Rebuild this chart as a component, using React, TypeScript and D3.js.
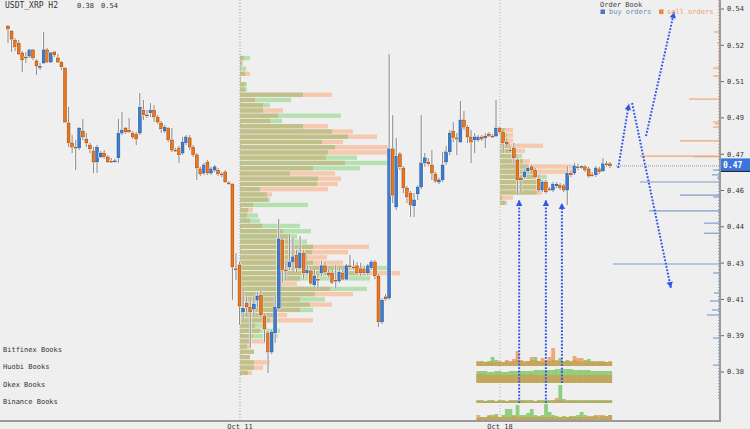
import React, { useEffect } from "react";
import * as d3 from "d3";

// ---------- DATA ----------
// H2 candles: [open, high, low, close]
const candles: [number, number, number, number][] = [
[.5296,.5300,.5222,.5283],[.5274,.5279,.5183,.5239],[.5235,.5244,.5187,.5205],[.5222,.5235,.5170,.5174],
[.5179,.5187,.5096,.5148],[.5161,.5183,.5135,.5157],[.5165,.5196,.5157,.5192],[.5192,.5196,.5148,.5157],
[.5144,.5152,.5083,.5122],[.5118,.5135,.5105,.5120],[.5135,.5270,.5131,.5192],[.5192,.5200,.5135,.5139],
[.5139,.5183,.5135,.5179],[.5183,.5187,.5161,.5170],[.5157,.5174,.5135,.5139],[.5139,.5144,.5105,.5118],
[.5113,.5118,.4874,.4878],[.4874,.4943,.4769,.4787],[.4787,.4822,.4743,.4769],[.4769,.4800,.4669,.4767],
[.4765,.4856,.4756,.4852],[.4839,.4891,.4800,.4813],[.4804,.4830,.4769,.4787],[.4778,.4787,.4743,.4761],
[.4752,.4769,.4656,.4704],[.4704,.4778,.4656,.4769],[.4726,.4752,.4722,.4743],[.4743,.4756,.4718,.4726],
[.4726,.4735,.4700,.4704],[.4708,.4722,.4700,.4706],[.4706,.4718,.4704,.4709],[.4722,.4891,.4700,.4830],
[.4830,.4922,.4822,.4843],[.4852,.4856,.4826,.4835],[.4843,.4896,.4830,.4835],[.4830,.4839,.4804,.4813],
[.4826,.4835,.4778,.4804],[.4830,.5004,.4822,.4943],[.4930,.4974,.4887,.4909],[.4909,.4930,.4896,.4907],
[.4918,.4961,.4900,.4930],[.4930,.4952,.4878,.4900],[.4900,.4909,.4870,.4878],[.4874,.4883,.4830,.4848],
[.4839,.4865,.4830,.4856],[.4852,.4856,.4791,.4800],[.4800,.4852,.4748,.4756],[.4756,.4765,.4748,.4754],
[.4765,.4774,.4700,.4735],[.4743,.4813,.4735,.4791],[.4787,.4822,.4778,.4813],[.4809,.4822,.4756,.4769],
[.4769,.4778,.4726,.4735],[.4735,.4743,.4626,.4678],[.4674,.4683,.4643,.4652],[.4656,.4700,.4648,.4691],
[.4704,.4713,.4648,.4656],[.4656,.4683,.4648,.4674],[.4669,.4691,.4661,.4683],[.4669,.4678,.4643,.4652],
[.4652,.4661,.4639,.4650],[.4661,.4669,.4613,.4617],[.4613,.4621,.4604,.4611],[.4608,.4613,.4103,.4247],
[.4239,.4308,.4190,.4237],[.4256,.4269,.3995,.4077],[.4051,.4147,.4016,.4068],[.4090,.4117,.4047,.4073],
[.4073,.4103,.3895,.4051],[.4064,.4117,.4034,.4086],[.4103,.4138,.4073,.4121],[.4125,.4147,.4025,.4038],
[.4034,.4042,.3921,.3977],[.3960,.3969,.3786,.3877],[.3877,.3973,.3868,.3964],[.3960,.4125,.3916,.4073],
[.4068,.4456,.4060,.4369],[.4365,.4373,.4181,.4234],[.4234,.4265,.4194,.4232],[.4247,.4386,.4234,.4269],
[.4269,.4373,.4230,.4291],[.4299,.4321,.4225,.4243],[.4243,.4382,.4234,.4308],[.4308,.4321,.4194,.4221],
[.4221,.4256,.4212,.4234],[.4230,.4243,.4169,.4177],[.4169,.4234,.4160,.4208],[.4194,.4212,.4151,.4192],
[.4221,.4273,.4208,.4252],[.4252,.4269,.4212,.4225],[.4221,.4234,.4203,.4212],[.4221,.4234,.4173,.4181],
[.4190,.4256,.4155,.4188],[.4186,.4243,.4177,.4225],[.4221,.4234,.4190,.4194],[.4194,.4260,.4190,.4252],
[.4252,.4299,.4243,.4250],[.4247,.4278,.4234,.4245],[.4252,.4269,.4212,.4221],[.4239,.4265,.4208,.4221],
[.4239,.4252,.4212,.4221],[.4221,.4260,.4212,.4252],[.4243,.4278,.4234,.4269],[.4269,.4278,.4194,.4208],
[.4208,.4217,.3986,.4008],[.4008,.4112,.3999,.4103],[.4117,.4130,.4099,.4108],[.4112,.5174,.4103,.4761],
[.4761,.4909,.4526,.4560],[.4508,.4809,.4495,.4730],[.4739,.4748,.4669,.4683],[.4678,.4687,.4569,.4591],
[.4591,.4600,.4526,.4552],[.4569,.4578,.4465,.4517],[.4513,.4569,.4465,.4539],[.4565,.4604,.4539,.4595],
[.4595,.4909,.4587,.4700],[.4700,.4743,.4683,.4722],[.4704,.4722,.4687,.4696],[.4691,.4756,.4626,.4656],
[.4652,.4661,.4613,.4621],[.4617,.4635,.4608,.4626],[.4626,.4748,.4617,.4691],[.4704,.4774,.4691,.4748],
[.4748,.4843,.4735,.4830],[.4839,.4878,.4791,.4809],[.4809,.4830,.4735,.4804],[.4791,.4970,.4787,.4887],
[.4887,.4926,.4843,.4856],[.4856,.4865,.4787,.4813],[.4813,.4843,.4700,.4791],[.4800,.4830,.4743,.4813],
[.4800,.4822,.4791,.4813],[.4813,.4822,.4795,.4804],[.4809,.4830,.4765,.4817],[.4826,.4835,.4813,.4817],
[.4817,.4826,.4809,.4815],[.4817,.4974,.4813,.4852],[.4852,.4856,.4826,.4835],[.4835,.4843,.4743,.4787],
[.4791,.4800,.4774,.4782],[.4756,.4769,.4748,.4754],[.4765,.4787,.4700,.4722],[.4713,.4722,.4569,.4626],
[.4635,.4643,.4569,.4626],[.4639,.4669,.4630,.4661],[.4665,.4687,.4656,.4678],[.4683,.4691,.4661,.4669],
[.4669,.4678,.4630,.4639],[.4630,.4639,.4574,.4582],[.4582,.4626,.4574,.4617],[.4617,.4626,.4565,.4574],
[.4587,.4595,.4578,.4585],[.4582,.4617,.4574,.4608],[.4600,.4617,.4591,.4608],[.4604,.4613,.4582,.4591],
[.4600,.4608,.4574,.4582],[.4582,.4687,.4517,.4656],[.4656,.4665,.4639,.4648],[.4656,.4700,.4648,.4687],
[.4683,.4696,.4669,.4681],[.4683,.4691,.4674,.4685],[.4683,.4691,.4661,.4669],[.4674,.4683,.4635,.4643],
[.4648,.4661,.4639,.4646],[.4648,.4687,.4639,.4678],[.4674,.4683,.4652,.4661],[.4665,.4722,.4661,.4696],
[.4696,.4708,.4683,.4694],[.4696,.4704,.4678,.4687],
];

const yTickValues = [0.379, 0.3948, 0.4106, 0.4264, 0.4422, 0.458, 0.4738, 0.4896, 0.5054, 0.5212, 0.537];
const priceDomain = [0.379, 0.537];
const xTickLabels = ["Oct 11", "Oct 18"];
const xTickIndex = [65.13, 138.12];
const titleText = "USDT_XRP H2";
const titleLow = "0.38";
const titleHigh = "0.54";

// volume profile at Oct 11 (rows top->bottom)
const profile1Range = [0.5166, 0.3777];
const profile1Buy = [10,2,6,5,1,7,7,63,51,30,23,101,42,63,92,108,82,95,88,117,148,120,50,78,77,20,
  27,30,68,8,18,20,60,71,57,67,73,72,67,73,147,130,130,40,127,75,85,70,73,37,30,23,40,38,10,7,14,10,14,14,8];
const profile1Sell = [4,3,1,10,1,5,5,92,15,23,43,38,30,88,113,137,103,150,150,86,105,73,95,101,98,88,
  32,28,13,13,7,10,22,43,50,53,129,108,87,103,110,160,60,57,90,113,60,92,60,47,73,15,20,13,25,10,14,10,30,23,12];
// volume profile at Oct 18
const profile2Range = [0.4852, 0.4517];
const profile2Buy = [5,7,8,10,12,22,23,28,37,47,47,40,37,2,7];
const profile2Sell = [13,13,13,43,25,17,30,72,73,40,37,45,42,13,5];

// live order book levels (price, size)
const sellLevels = [.5383,.5270,.5222,.5122,.5113,.5078,.4978,.4878,.4870,.4856,.4796,.4730,.4727];
const sellSizes = [2,6,3,2,7,7,31,7,5,7,40,80,27];
const buyLevels = [.4669,.4648,.4635,.4617,.4560,.4552,.4491,.4438,.4394,.4260,.4221,.4134,.4099,.4060,.4038,.3938,.3820];
const buySizes = [7,8,3,80,40,7,71,16,16,107,7,6,10,8,13,7,7];

// exchange books (per candle from index bookStart)
const bookStart = 132;
const bookNames = ["Bitfinex Books", "Huobi Books", "Okex Books", "Binance Books"];
const bitfinexBuy = [4,5,4,5,9,6,4,4,5,4,5,6,5,4,5,6,9,5,4,5,5,6,5,8,5,6,5,6,5,4,6,7,5,4,5,4,4,4];
const bitfinexSell = [5,4,4,4,4,4,5,4,6,5,7,15,6,5,5,9,6,5,8,6,9,18,6,5,4,5,4,10,8,8,5,5,4,5,4,5,4,5];
const huobiBuy = [12,12,12,11,11,12,12,11,11,12,12,12,12,12,12,12,13,13,13,13,13,13,14,14,14,14,14,13,13,13,13,13,12,12,12,12,12,12];
const huobiSell = [9,9,8,8,8,8,9,8,8,8,8,8,8,8,8,9,8,8,8,8,8,8,8,8,8,8,8,8,8,8,8,8,8,8,8,8,8,8];
const okexBuy = [3,3,2,3,3,2,3,3,2,3,3,3,3,3,3,3,2,3,3,3,3,3,3,18,4,3,3,3,3,3,3,3,3,3,3,3,3,3];
const okexSell = [2,2,2,2,2,2,2,2,2,2,2,2,2,2,2,2,2,2,2,2,2,2,5,3,2,2,2,2,2,2,2,2,2,2,2,2,2,2];
const binanceBuy = [3,4,4,5,6,7,4,6,12,12,6,16,6,6,8,12,6,5,6,17,9,6,5,4,5,4,5,5,6,9,6,4,5,6,4,5,5,6];
const binanceSell = [6,4,4,6,4,5,4,4,4,4,5,4,4,4,4,4,4,4,4,4,4,4,3,4,4,4,4,4,4,4,4,5,4,5,6,6,5,6];

// annotation arrows in (candle index, price)
const arrowFrom: [number, number][] = [[143.5,.3655],[151,.3655],[155.5,.3742],[171.3,.4678],[175.2,.4961],[179.1,.4817]];
const arrowTo: [number, number][] = [[143.5,.4539],[151,.4539],[155.5,.4526],[174.3,.4957],[186.1,.4156],[187,.5357]];

// ---------- CHART ----------
const W = 750, H = 429;
const FONT = "'DejaVu Sans Mono', monospace";
const ORANGE = "#f0761c", BLUE = "#3f7dcc";

export default function App() {
  useEffect(() => {
    document.body.style.margin = "0";
    document.body.style.background = "#efefef";
  }, []);

  const x = d3.scaleLinear().domain([0, candles.length - 1]).range([8, 610]);
  const y = d3.scaleLinear().domain(priceDomain).range([372, 9]);
  const pitch = x(1) - x(0);
  const vol = d3.scaleLinear().domain([0, 100]).range([0, 100]);
  const fmt = d3.format(".2f");
  const axisX = 720, bottomY = 421;
  const last = candles[candles.length - 1][3];

  const profile = (buy: number[], sell: number[], range: number[], idx: number, key: string) => {
    const band = d3.scaleBand<number>().domain(d3.range(buy.length)).range([y(range[0]), y(range[1])]).paddingInner(0.18);
    const x0 = x(idx);
    return (
      <g key={key}>
        {buy.map((b, i) => {
          const s = sell[i];
          const yy = band(i)!;
          const hh = band.bandwidth();
          return (
            <g key={i}>
              <rect x={x0} y={yy} width={vol(Math.max(b, s))} height={hh} fill={b > s ? "#b7e0b1" : "#f6c8ae"} />
              <rect x={x0} y={yy} width={vol(Math.min(b, s))} height={hh} fill="#c0c18a" />
            </g>
          );
        })}
      </g>
    );
  };

  const books = [
    { buy: bitfinexBuy, sell: bitfinexSell, base: 366 },
    { buy: huobiBuy, sell: huobiSell, base: 383 },
    { buy: okexBuy, sell: okexSell, base: 403 },
    { buy: binanceBuy, sell: binanceSell, base: 421 },
  ];
  const bookLabelY = [352, 369, 387, 404];
  const hScale = d3.scaleLinear().domain([0, 10]).range([0, 10]);

  const arrowHead = (x1: number, y1: number, x2: number, y2: number) => {
    const a = Math.atan2(y2 - y1, x2 - x1);
    const L = 6, Wd = 3.2;
    const bx = x2 - L * Math.cos(a), by = y2 - L * Math.sin(a);
    const px = -Math.sin(a) * Wd, py = Math.cos(a) * Wd;
    return `${x2},${y2} ${bx + px},${by + py} ${bx - px},${by - py}`;
  };

  return (
    <svg width={W} height={H} style={{ position: "fixed", left: 0, top: 0, display: "block", background: "#efefef" }}>
      <rect width={W} height={H} fill="#efefef" />

      {/* date grid lines */}
      {xTickIndex.map((t, i) => (
        <line key={i} x1={x(t)} x2={x(t)} y1={0} y2={bottomY} stroke="#b5b5b5" strokeDasharray="1 2" />
      ))}

      {/* volume profiles */}
      {profile(profile1Buy, profile1Sell, profile1Range, xTickIndex[0], "p1")}
      {profile(profile2Buy, profile2Sell, profile2Range, xTickIndex[1], "p2")}
      <line x1={x(xTickIndex[0])} x2={x(xTickIndex[0])} y1={0} y2={bottomY} stroke="#b5b5b5" strokeDasharray="1 2" />

      {/* order book levels */}
      {sellLevels.map((p, i) => (
        <line key={"s" + i} x1={axisX - sellSizes[i]} x2={axisX} y1={y(p)} y2={y(p)} stroke="#efa676" strokeWidth={1.2} />
      ))}
      {buyLevels.map((p, i) => (
        <line key={"b" + i} x1={axisX - buySizes[i]} x2={axisX} y1={y(p)} y2={y(p)} stroke="#7f9fcc" strokeWidth={1.2} />
      ))}
      <line x1={axisX - 1.5} x2={axisX - 1.5} y1={0} y2={y(last) - 4} stroke="#e9a070" strokeDasharray="1 2" />
      <line x1={axisX - 1.5} x2={axisX - 1.5} y1={y(last) + 4} y2={400} stroke="#7f9fcc" strokeDasharray="1 2" />

      {/* last price line */}
      <line x1={x(candles.length - 1) + 6} x2={axisX} y1={y(last)} y2={y(last)} stroke="#999" strokeDasharray="1 1" />

      {/* candles */}
      {candles.map((c, i) => {
        const [o, h, l, cl] = c;
        const up = cl >= o;
        const cx = x(i);
        const yTop = y(Math.max(o, cl));
        const bh = Math.max(1, y(Math.min(o, cl)) - yTop);
        return (
          <g key={i}>
            <line x1={cx} x2={cx} y1={y(h)} y2={y(l)} stroke="#fff" strokeWidth={2.6} opacity={0.8} />
            <line x1={cx} x2={cx} y1={y(h)} y2={y(l)} stroke="#8c8c8c" strokeWidth={1.1} />
            <rect x={cx - 2.2} y={yTop - 0.7} width={4.4} height={bh + 1.4} fill="#fff" />
            <rect x={cx - 1.45} y={yTop} width={2.9} height={bh} fill={up ? BLUE : ORANGE}
              stroke={up ? "#1d4b8a" : "#8a3b05"} strokeWidth={0.5} />
          </g>
        );
      })}

      {/* exchange book panels */}
      {books.map((bk, k) => (
        <g key={"bk" + k}>
          {bk.buy.map((b, j) => {
            const s = bk.sell[j];
            const cx = x(bookStart + j);
            const m = Math.min(b, s), M = Math.max(b, s);
            return (
              <g key={j}>
                <rect x={cx - pitch / 2} y={bk.base - hScale(M)} width={pitch + 0.3} height={hScale(M)} fill={b > s ? "#8fce7d" : "#f4a67b"} />
                <rect x={cx - pitch / 2} y={bk.base - hScale(m)} width={pitch + 0.3} height={hScale(m)} fill="#c3a65c" />
              </g>
            );
          })}
        </g>
      ))}
      {bookNames.map((n, k) => (
        <text key={n} x={3} y={bookLabelY[k]} fontFamily={FONT} fontSize={7} fill="#333">{n}</text>
      ))}

      {/* annotation arrows */}
      {arrowFrom.map((f, i) => {
        const x1 = x(f[0]), y1 = y(f[1]), x2 = x(arrowTo[i][0]), y2 = y(arrowTo[i][1]);
        return (
          <g key={"a" + i}>
            <line x1={x1} y1={y1} x2={x2} y2={y2} stroke="#2f55ea" strokeWidth={2} strokeDasharray="1.8 1.6" />
            <polygon points={arrowHead(x1, y1, x2, y2)} fill="#2f55ea" />
          </g>
        );
      })}

      {/* axes */}
      <line x1={0} x2={axisX + 1} y1={bottomY} y2={bottomY} stroke="#9a9a9a" strokeWidth={2} />
      <line x1={axisX} x2={axisX} y1={0} y2={bottomY} stroke="#9a9a9a" strokeWidth={2} />
      {yTickValues.map((v, i) => (
        <g key={"yt" + i}>
          <line x1={axisX + 1} x2={axisX + 4} y1={y(v)} y2={y(v)} stroke="#666" />
          <text x={727} y={y(v)} dy="0.35em" fontFamily={FONT} fontSize={7} fill="#333">{fmt(v)}</text>
        </g>
      ))}
      {xTickIndex.map((t, i) => (
        <text key={"xt" + i} x={x(t)} y={428.5} textAnchor="middle" fontFamily={FONT} fontSize={7} fill="#333">{xTickLabels[i]}</text>
      ))}

      {/* current price box */}
      <rect x={axisX + 1} y={y(last) - 7.5} width={W - axisX - 1} height={13} fill="#3a74dc" />
      <line x1={axisX + 1} x2={W} y1={y(last) + 5.5} y2={y(last) + 5.5} stroke="#1a1a1a" strokeWidth={1} />
      <text x={723} y={y(last) - 1} dy="0.35em" fontFamily={FONT} fontSize={8} fontWeight="bold" fill="#fff">{fmt(last)}</text>

      {/* title */}
      <text x={5} y={8} fontFamily={FONT} fontSize={8} fill="#333">{titleText}</text>
      <text x={77} y={8} fontFamily={FONT} fontSize={7} fill="#333">{titleLow}</text>
      <text x={101} y={8} fontFamily={FONT} fontSize={7} fill="#333">{titleHigh}</text>

      {/* legend */}
      <text x={600} y={7} fontFamily={FONT} fontSize={7} fill="#444">Order Book</text>
      <rect x={600.5} y={9.5} width={4.5} height={4.5} fill="#4a78b8" />
      <text x={609} y={14} fontFamily={FONT} fontSize={7} fill="#6c8dc0">buy orders</text>
      <rect x={659} y={9.5} width={4.5} height={4.5} fill="#f0883a" />
      <text x={667} y={14} fontFamily={FONT} fontSize={7} fill="#e9a070">sell orders</text>
    </svg>
  );
}
